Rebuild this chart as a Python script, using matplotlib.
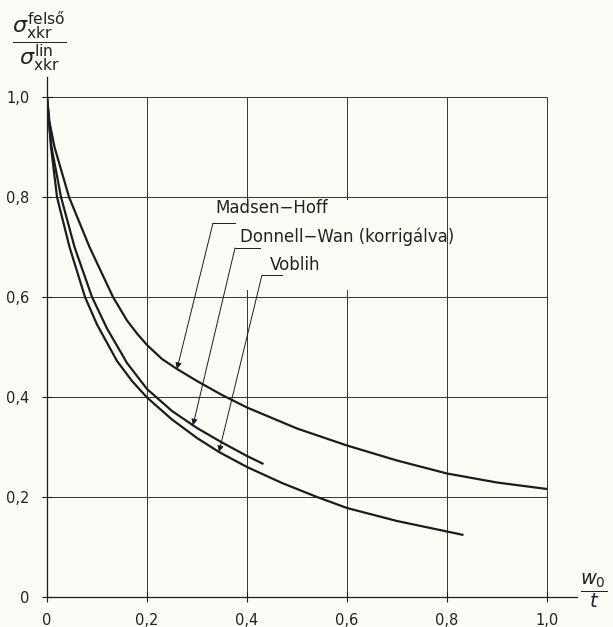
import matplotlib
matplotlib.use('Agg')
import matplotlib.pyplot as plt
import numpy as np
from matplotlib.patches import Rectangle

# görbék leolvasva az ábráról (w0/t, sigma felső / sigma lin)
x_madsen = [0, 0.005, 0.015, 0.044, 0.085, 0.132, 0.16, 0.18, 0.2, 0.23, 0.26, 0.3, 0.35, 0.4,
            0.5, 0.6, 0.7, 0.8, 0.9, 1.0]
y_madsen = [1.0, 0.95, 0.9, 0.8, 0.7, 0.6, 0.553, 0.527, 0.504, 0.476, 0.456, 0.432, 0.404, 0.379,
            0.337, 0.303, 0.273, 0.247, 0.229, 0.216]

x_donnell = [0, 0.004, 0.009, 0.028, 0.055, 0.09, 0.12, 0.16, 0.2, 0.25, 0.3, 0.35, 0.4, 0.433]
y_donnell = [1.0, 0.95, 0.9, 0.8, 0.7, 0.6, 0.537, 0.468, 0.416, 0.372, 0.338, 0.309, 0.282, 0.266]

x_voblih = [0, 0.004, 0.008, 0.02, 0.045, 0.076, 0.1, 0.14, 0.17, 0.2, 0.25, 0.3, 0.344, 0.4,
            0.47, 0.54, 0.6, 0.7, 0.8, 0.833]
y_voblih = [1.0, 0.95, 0.9, 0.8, 0.7, 0.6, 0.545, 0.472, 0.432, 0.399, 0.355, 0.318, 0.29, 0.26,
            0.228, 0.2, 0.178, 0.152, 0.131, 0.124]

ticks = [0, 0.2, 0.4, 0.6, 0.8, 1.0]
xtick_labels = ['0', '0,2', '0,4', '0,6', '0,8', '1,0']
ytick_labels = ['0', '0,2', '0,4', '0,6', '0,8', '1,0']

nevek = ['Madsen\u2212Hoff', 'Donnell\u2212Wan (korrigálva)', 'Voblih']

bg = '#fcfcf7'
ink = '#1c1c1c'

fig = plt.figure(figsize=(6.13, 6.27), dpi=100, facecolor=bg)
ax = fig.add_axes([47 / 613, 30 / 627, 530 / 613, 520 / 627])
ax.set_facecolor(bg)
ax.set_xlim(0, 1.06)
ax.set_ylim(0, 1.04)

# rács csak a [0,1] négyzeten belül
ax.vlines(ticks[1:], 0, 1.0, color='#333333', lw=0.7, zorder=1)
ax.hlines(ticks[1:], 0, 1.0, color='#333333', lw=0.7, zorder=1)
# a feliratok mögött nincs rácsvonal
ax.add_patch(Rectangle((0.3, 0.615), 0.4, 0.18, facecolor=bg, edgecolor='none', zorder=2))

for xs, ys in [(x_madsen, y_madsen), (x_donnell, y_donnell), (x_voblih, y_voblih)]:
    ax.plot(xs, ys, color=ink, lw=1.6, zorder=3, solid_capstyle='butt', solid_joinstyle='round')

for s in ['top', 'right']:
    ax.spines[s].set_visible(False)
for s in ['left', 'bottom']:
    ax.spines[s].set_color(ink)
    ax.spines[s].set_linewidth(0.9)

ax.set_xticks(ticks)
ax.set_xticklabels(xtick_labels)
ax.set_yticks(ticks)
ax.set_yticklabels(ytick_labels)
ax.tick_params(axis='both', direction='inout', length=7, width=0.8, color=ink,
               labelsize=10.5, labelcolor='#222222')
ax.tick_params(axis='y', pad=9)
ax.tick_params(axis='x', pad=8)

# feliratok nyíllal
cimkek = [
    # (szöveg bal x, y, vízszintes vonal x1, x2, y, nyíl x a görbén)
    (0.336, 0.778, 0.376, 0.332, 0.748, 0.26, x_madsen, y_madsen),
    (0.386, 0.720, 0.426, 0.376, 0.698, 0.292, x_donnell, y_donnell),
    (0.446, 0.664, 0.470, 0.430, 0.644, 0.344, x_voblih, y_voblih),
]
for nev, (tx, ty, hx1, hx2, hy, px, xs, ys) in zip(nevek, cimkek):
    ax.text(tx, ty, nev, fontsize=12, color='#222222', va='center', ha='left', zorder=4)
    ax.plot([hx1, hx2], [hy, hy], color=ink, lw=0.7, zorder=4)
    py = np.interp(px, xs, ys)
    ax.annotate('', xy=(px, py), xytext=(hx2, hy),
                arrowprops=dict(arrowstyle='-|>', color=ink, lw=0.7,
                                mutation_scale=9, shrinkA=0, shrinkB=0),
                zorder=4)

fig.text(39 / 613, 1 - 42 / 627,
         r'$\dfrac{\sigma^{\mathrm{felső}}_{\mathrm{xkr}}}{\sigma^{\mathrm{lin}}_{\mathrm{xkr}}}$',
         fontsize=16, ha='center', va='center', color='#222222')
fig.text(594 / 613, 1 - 591 / 627, r'$\dfrac{w_0}{t}$',
         fontsize=14, ha='center', va='center', color='#222222')

fig.savefig('out.png', dpi=100, facecolor=bg)
